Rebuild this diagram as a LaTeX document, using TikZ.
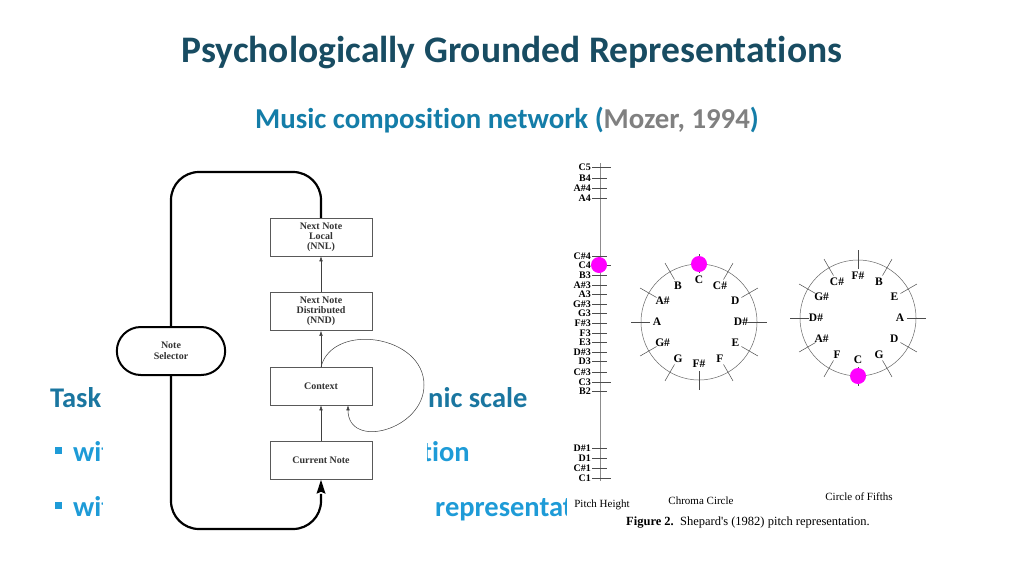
\documentclass[tikz,border=0pt]{standalone}
\usepackage{fontspec}
\setmainfont{Carlito}[Ligatures=CommonOff]
\newfontfamily\scanfont{Liberation Serif}
\usetikzlibrary{arrows.meta,positioning,shapes.misc}
\definecolor{titleteal}{RGB}{24,76,98}
\definecolor{subblue}{RGB}{20,125,168}
\definecolor{taskblue}{RGB}{26,118,160}
\definecolor{bulletblue}{RGB}{30,155,215}
\definecolor{dotpink}{RGB}{255,0,255}

\begin{document}
\begin{tikzpicture}[x=1pt,y=-1pt,node distance=36pt,>={Latex[length=5pt,width=3.5pt]},
    box/.style={draw=black!65,line width=0.5pt,minimum width=102pt,minimum height=38pt,align=center,
      font=\scanfont\bfseries\fontsize{10}{10}\selectfont,text=black!80},
    selector/.style={draw,line width=2pt,rounded rectangle,minimum width=115pt,minimum height=48pt,align=center,
      font=\scanfont\bfseries\fontsize{10}{10.5}\selectfont,text=black!80},
    bigloop/.style={line width=2.2pt,rounded corners=28pt},
    link/.style={->,black!75,line width=0.5pt},
    tick/.style={black!70,line width=0.5pt},
    pitch/.style={font=\scanfont\bfseries\fontsize{10}{10}\selectfont,inner sep=0pt,anchor=east},
    note/.style={font=\scanfont\bfseries\fontsize{11.5}{11.5}\selectfont,inner sep=0pt},
    capt/.style={font=\scanfont\fontsize{11}{11}\selectfont,inner sep=0pt,anchor=base},
    line/.style={anchor=base west,inner sep=0pt,font=\bfseries\fontsize{28.5}{28.5}\selectfont},
    bul/.style={fill=bulletblue,minimum size=7pt,inner sep=0pt}]
  \useasboundingbox (0,0) rectangle (1024,576);

  % slide headings
  \node[anchor=base,font=\bfseries\fontsize{37.5}{37.5}\selectfont,text=titleteal] (title) at (512,62)
    {Psychologically Grounded Representations};
  \node[anchor=base,font=\bfseries\fontsize{28.8}{28.8}\selectfont,text=subblue] (subtitle) at (507,128)
    {Music composition network (\textcolor{gray}{Mozer, 1994})};

  % body text, mostly hidden behind the two scans
  \node[line,text=taskblue] (task) at (50,407) {Task};
  \node[line,text=taskblue] (task2) at (428,407) {nic scale};
  \node[bul] (b1) at (58.5,450) {};
  \node[line,text=bulletblue] (w1) at (73,461) {wit};
  \node[line,text=bulletblue] (w1b) at (422,461) {tion};
  \node[bul] (b2) at (58.5,505) {};
  \node[line,text=bulletblue] (w2) at (73,516) {wit};
  \node[line,text=bulletblue] (w2b) at (435,516) {representat};

  % scanned figures
  \fill[white] (103,150) rectangle (427,545);
  \fill[white] (567,150) rectangle (1000,540);

  % network
  \node[box] (cur) at (321,460.5) {Current Note};
  \node[box,above=of cur] (ctx) {Context};
  \node[box,above=of ctx] (nnd) {Next Note\\Distributed\\(NND)};
  \node[box,above=of nnd] (nnl) {Next Note\\Local\\(NNL)};
  \node[selector] (sel) at (171,351) {Note\\Selector};
  \coordinate (tipbase) at ([yshift=-14pt]cur.south);
  \draw[link] (cur) -- (ctx);
  \draw[link] (ctx) -- (nnd);
  \draw[link] (nnd) -- (nnl);
  \draw[link] (ctx.north) .. controls +(12,-45) and +(0,-50) .. (424,385)
    .. controls +(0,45) and +(0,45) .. ([xshift=27pt]ctx.south);
  \draw[bigloop] (sel.north) |- (321,172) -- (nnl.north);
  \draw[bigloop] (sel.south) |- (321,529) -- (tipbase);
  \fill ([xshift=-4.5pt]tipbase) -- (cur.south) -- ([xshift=4.5pt]tipbase)
    -- ([yshift=2pt]tipbase) -- cycle;

  % pitch height
  \draw[black!45,line width=0.5pt] (600,163) -- (600,481);
  \foreach \n/\y in {C5/167,B4/178,A\#4/188,A4/198,C\#4/256,C4/265,B3/275,A\#3/285,A3/294,G\#3/304,
      G3/313,F\#3/323,F3/333,E3/342,D\#3/352,D3/361,C\#3/372,C3/382,B2/391,D\#1/448,D1/458,C\#1/468,C1/478}{
    \draw[tick] (592,\y) -- (607,\y);
    \node[pitch] (p\y) at (591,\y) {\n};
  }
  \foreach \y in {167,265,382,478}
    \draw[tick] (607,\y) -- (611,\y);
  \fill[dotpink] (599,265) circle (8pt);

  % chroma circle
  \begin{scope}[shift={(699,322)}]
    \draw[black!60,line width=0.5pt] (0,0) circle (58pt);
    \foreach \n [count=\i from 0] in {C,C\#,D,D\#,E,F,F\#,G,G\#,A,A\#,B}{
      \draw[tick] (90-30*\i:49pt) -- (90-30*\i:68pt);
      \node[note] (ch\i) at (90-30*\i:42pt) {\n};
    }
    \fill[dotpink] (90:58pt) circle (8pt);
  \end{scope}

  % circle of fifths
  \begin{scope}[shift={(858,318)}]
    \draw[black!60,line width=0.5pt] (0,0) circle (58pt);
    \foreach \n [count=\i from 0] in {C,G,D,A,E,B,F\#,C\#,G\#,D\#,A\#,F}{
      \draw[tick] (-90+30*\i:49pt) -- (-90+30*\i:68pt);
      \node[note] (cf\i) at (-90+30*\i:42pt) {\n};
    }
    \fill[dotpink] (-90:58pt) circle (8pt);
  \end{scope}

  \node[capt] (ph) at (602,507) {Pitch Height};
  \node[capt] (cc) at (701,504) {Chroma Circle};
  \node[capt] (cof) at (859,500) {Circle of Fifths};
  \node[capt,font=\scanfont\fontsize{12.5}{12.5}\selectfont] (fig) at (748,525)
    {\textbf{Figure 2.}\ \ Shepard's (1982) pitch representation.};
\end{tikzpicture}
\end{document}
